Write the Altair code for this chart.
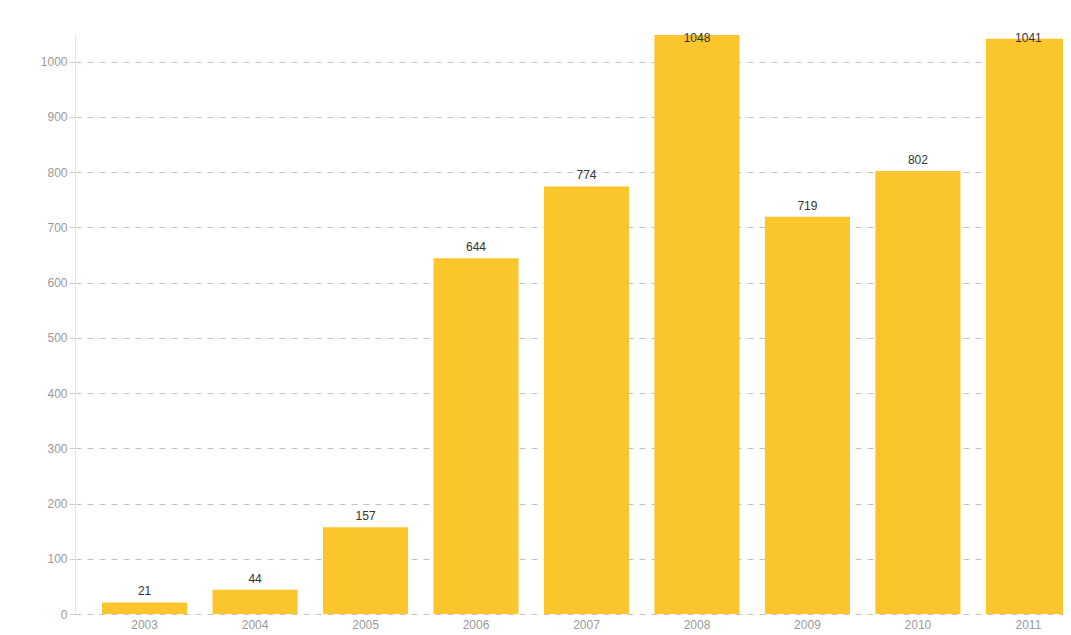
import altair as alt
import pandas as pd

years = ["2003", "2004", "2005", "2006", "2007", "2008", "2009", "2010", "2011"]
values = [21, 44, 157, 644, 774, 1048, 719, 802, 1041]
y_ticks = [0, 100, 200, 300, 400, 500, 600, 700, 800, 900, 1000]

df = pd.DataFrame({"year": years, "value": values})

x_enc = alt.X(
    "year:N",
    sort=years,
    title=None,
    scale=alt.Scale(range=[0, 1023], paddingInner=0.23, paddingOuter=0.245),
    axis=alt.Axis(
        labelAngle=0, domain=False, ticks=False, labelPadding=5,
        labelColor="#9a9a9a", labelFontSize=12, labelFont="Liberation Sans",
        grid=False,
    ),
)

y_scale = alt.Scale(domain=[0, 1048], nice=False)

bars = alt.Chart(df).mark_bar(color="#FBC52C").encode(
    x=x_enc,
    y=alt.Y(
        "value:Q",
        title=None,
        scale=y_scale,
        axis=alt.Axis(
            values=y_ticks, format="d", grid=True, gridDash=[6, 6],
            gridColor="#c4c4c4", gridWidth=1, domain=True,
            domainColor="#e6e6e6", tickColor="#cfcfcf", tickSize=6,
            labelPadding=2, labelColor="#9a9a9a", labelFontSize=12,
            labelFont="Liberation Sans",
        ),
    ),
)

labels = alt.Chart(df).transform_calculate(
    labelPos="min(datum.value, 1022)"
).mark_text(
    baseline="bottom", dy=-4, fontSize=12, color="#333333", font="Liberation Sans"
).encode(
    x=alt.X("year:N", sort=years),
    y=alt.Y("labelPos:Q", scale=y_scale),
    text="value:Q",
)

chart = alt.layer(bars, labels).properties(
    width=988,
    height=579,
    autosize=alt.AutoSizeParams(type="none"),
    padding={"left": 67, "top": 27, "right": 0, "bottom": 18},
).configure_view(stroke=None)

chart.save("out.html", embed_options={"renderer": "svg", "actions": False})
